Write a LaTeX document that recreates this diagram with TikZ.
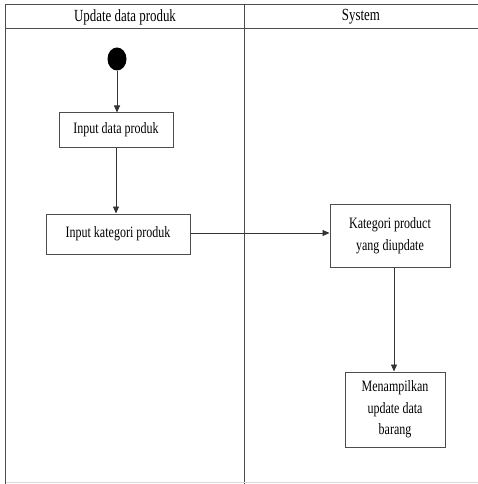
\documentclass[tikz,border=0pt]{standalone}
\usepackage{fontspec}
\setmainfont{Liberation Serif}[FakeStretch=0.76]
\usetikzlibrary{arrows.meta,shapes.geometric}
\begin{document}
\begin{tikzpicture}[x=1pt,y=-1pt,
  lane/.style={draw=black!70,line width=1pt},
  act/.style={draw=black!70,line width=1pt,fill=white,align=center,
    font=\fontsize{15.8}{21.5}\selectfont,inner sep=0pt},
  flow/.style={draw=black!80,line width=0.8pt,-{Triangle[length=7pt,width=6pt]}}]
  \useasboundingbox (0,0) rectangle (478,484);
  % swimlane frame
  \draw[lane] (478,5) -- (5.5,5) -- (5.5,484);
  \draw[lane] (5.5,28.5) -- (478,28.5);
  \draw[lane] (244.5,5) -- (244.5,484);
  \draw[black!15,line width=0.8pt] (5.5,482.5) -- (478,482.5);
  \node[font=\fontsize{17}{18}\selectfont] (h1) at (125,17) {Update data produk};
  \node[font=\fontsize{17}{18}\selectfont] (h2) at (361,17) {System};
  % activities
  \node[fill=black,ellipse,minimum width=19pt,minimum height=23pt,inner sep=0pt] (start) at (117,59) {};
  \node[act,minimum width=114pt,minimum height=34pt] (a1) at (116,130) {Input data produk};
  \node[act,minimum width=144pt,minimum height=40pt] (a2) at (118,234) {Input kategori produk};
  \node[act,minimum width=120pt,minimum height=63pt] (a3) at (390,235.5) {Kategori product\\yang diupdate};
  \node[act,minimum width=100pt,minimum height=75pt] (a4) at (395,409.5) {Menampilkan\\update data\\barang};
  % transitions
  \draw[flow] (start.south) -- (start.south |- a1.north);
  \draw[flow] (a1.south) -- (a1.south |- a2.north);
  \draw[flow] ([yshift=1pt]a2.east) -- ([yshift=1pt]a2.east -| a3.west);
  \draw[flow] ([xshift=4pt]a3.south) -- ([xshift=4pt]a3.south |- a4.north);
\end{tikzpicture}
\end{document}
